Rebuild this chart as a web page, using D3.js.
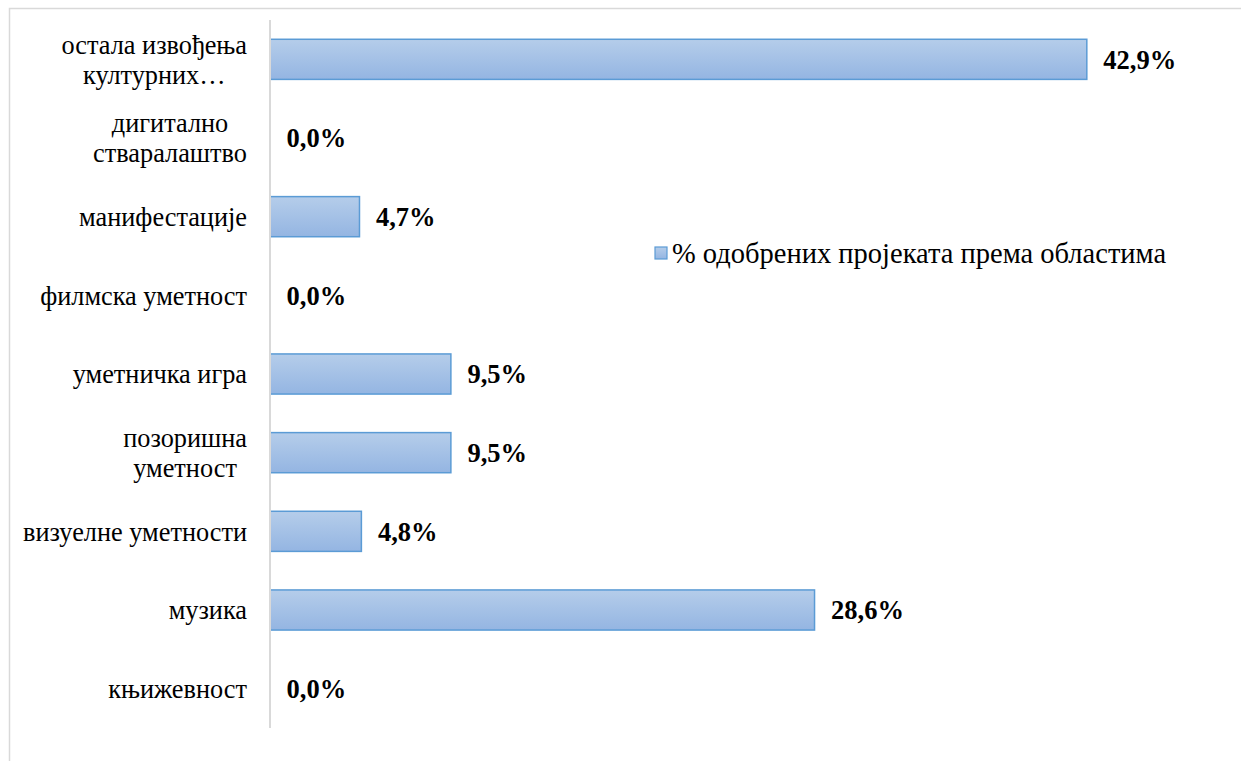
<!DOCTYPE html>
<html>
<head>
<meta charset="utf-8">
<script src="https://cdn.jsdelivr.net/npm/d3@7"></script>
<style>
  body { margin: 0; background: #fff; }
</style>
</head>
<body>
<div id="chart"></div>
<script>
// categories, top to bottom (line breaks as in the original labels)
var categories = ["остала извођења\nкултурних…", "дигитално\nстваралаштво", "манифестације",
  "филмска уметност", "уметничка игра", "позоришна\nуметност", "визуелне уметности",
  "музика", "књижевност"];
var values = [42.9, 0.0, 4.7, 0.0, 9.5, 9.5, 4.8, 28.6, 0.0];
var seriesName = "% одобрених пројеката према областима";

var FONT = "Liberation Serif";
var W = 1241, H = 761;
var svg = d3.select("#chart").append("svg")
  .attr("width", W).attr("height", H)
  .attr("font-family", FONT);

//gradient for bars
var defs = svg.append("defs");
var grad = defs.append("linearGradient").attr("id", "barGrad")
  .attr("x1", 0).attr("y1", 0).attr("x2", 0).attr("y2", 1);
grad.append("stop").attr("offset", "0%").attr("stop-color", "#b5cdea");
grad.append("stop").attr("offset", "100%").attr("stop-color", "#94b5e2");

//outer chart border
svg.append("rect")
  .attr("x", 9.5).attr("y", 8.5)
  .attr("width", W + 20).attr("height", H + 20)
  .attr("fill", "none").attr("stroke", "#d9d9d9").attr("stroke-width", 1.5);

//scales
var x = d3.scaleLinear().domain([0, 45]).range([270, 270 + 45 * 19.04]);
var y = d3.scaleBand().domain(categories).range([20, 728]).paddingInner(0.49).paddingOuter(0.245);

//bars
svg.selectAll(".bar").data(values).enter()
  .append("rect")
  .attr("class", "bar")
  .attr("x", x(0))
  .attr("y", function(d, i) { return y(categories[i]); })
  .attr("width", function(d) { return x(d) - x(0); })
  .attr("height", y.bandwidth())
  .attr("fill", "url(#barGrad)")
  .attr("stroke", function(d) { return d > 0 ? "#5b9bd5" : "none"; })
  .attr("stroke-width", 1.5);

//vertical axis line
svg.append("line")
  .attr("x1", x(0)).attr("x2", x(0))
  .attr("y1", 20).attr("y2", 728)
  .attr("stroke", "#d9d9d9").attr("stroke-width", 2);

//value labels
svg.selectAll(".val").data(values).enter()
  .append("text")
  .attr("class", "val")
  .attr("x", function(d) { return x(d) + 16.5; })
  .attr("y", function(d, i) { return y(categories[i]) + y.bandwidth() / 2; })
  .attr("dy", "0.35em")
  .attr("font-family", FONT)
  .attr("font-size", 26.5)
  .attr("font-weight", "bold")
  .text(function(d) { return d.toFixed(1).replace(".", ",") + "%"; });

//category labels: block right-aligned, lines centered inside the block
var labelRight = 247, lineH = 30;
categories.forEach(function(c) {
  var lines = c.split("\n");
  var cy = y(c) + y.bandwidth() / 2;
  var g = svg.append("g");
  var texts = lines.map(function(l, j) {
    return g.append("text")
      .attr("y", cy + (j - (lines.length - 1) / 2) * lineH)
      .attr("dy", "0.35em")
      .attr("font-family", FONT)
      .attr("font-size", 26.3)
      .attr("text-anchor", "middle")
      .text(l);
  });
  var maxW = d3.max(texts, function(t) { return t.node().getComputedTextLength(); });
  texts.forEach(function(t) { t.attr("x", labelRight - maxW / 2); });
});

//legend
var leg = svg.append("g").attr("transform", "translate(655,247)");
leg.append("rect").attr("width", 12).attr("height", 12)
  .attr("fill", "url(#barGrad)").attr("stroke", "#5b9bd5").attr("stroke-width", 1.2);
leg.append("text").attr("x", 17).attr("y", 6).attr("dy", "0.35em")
  .attr("font-family", FONT)
  .attr("font-size", 28.5).text(seriesName);
</script>
</body>
</html>
